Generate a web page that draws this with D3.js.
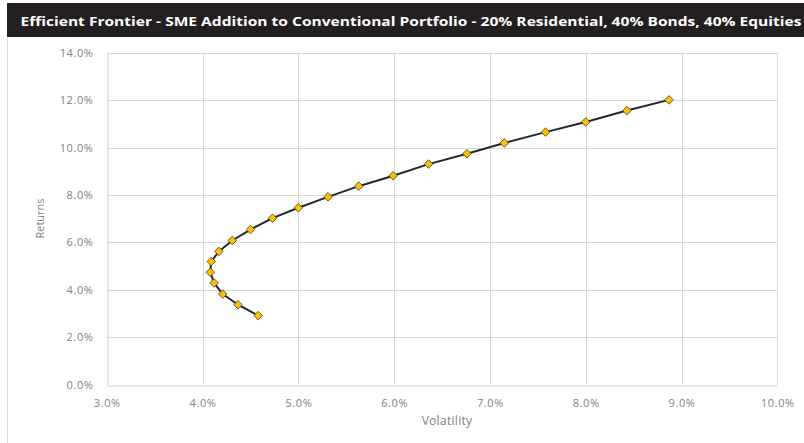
<!DOCTYPE html>
<html>
<head>
<meta charset="utf-8">
<script src="https://cdn.jsdelivr.net/npm/d3@7"></script>
<style>
  body { margin: 0; background: #fff; }
  text { font-family: "Open Sans", sans-serif; }
</style>
</head>
<body>
<script>
var volatility = [4.58, 4.37, 4.21, 4.12, 4.08, 4.09, 4.17, 4.31, 4.50, 4.73, 5.00,
                  5.31, 5.63, 5.99, 6.36, 6.76, 7.15, 7.58, 8.00, 8.43, 8.87];
var returns    = [2.91, 3.37, 3.82, 4.29, 4.74, 5.19, 5.62, 6.08, 6.54, 7.02, 7.46,
                  7.92, 8.37, 8.81, 9.30, 9.74, 10.19, 10.65, 11.08, 11.56, 12.01];

var xTicks = [3, 4, 5, 6, 7, 8, 9, 10],
    yTicks = [0, 2, 4, 6, 8, 10, 12, 14];

var title = "Efficient Frontier - SME Addition to Conventional Portfolio - 20% Residential, 40% Bonds, 40% Equities";

var width = 804, height = 443;

var svg = d3.select("body")
  .append("svg")
    .attr("width", width)
    .attr("height", height);

// chart frame + dark title bar
svg.append("line")
    .attr("x1", 7.5).attr("x2", 7.5)
    .attr("y1", 37).attr("y2", height)
    .attr("stroke", "#d9d9d9");

svg.append("rect")
    .attr("x", 7).attr("y", 3)
    .attr("width", width - 7).attr("height", 34)
    .attr("fill", "#231f20");

svg.append("text")
    .attr("x", 20.5)
    .attr("y", 26)
    .attr("fill", "#fff")
    .style("font-size", "13px")
    .style("font-weight", "bold")
    .attr("textLength", 781)
    .attr("lengthAdjust", "spacingAndGlyphs")
    .text(title);

var x = d3.scaleLinear().domain([3, 10]).range([106.8, 777.3]),
    y = d3.scaleLinear().domain([0, 14]).range([384.6, 52.7]);

var fmt = function(d) { return d.toFixed(1) + "%"; };

// gridlines
svg.append("g")
  .selectAll("line")
  .data(xTicks.slice(1))
  .enter().append("line")
    .attr("x1", function(d) { return Math.round(x(d)) + 0.5; })
    .attr("x2", function(d) { return Math.round(x(d)) + 0.5; })
    .attr("y1", y(14)).attr("y2", y(0))
    .attr("stroke", "#d9d9d9");

svg.append("g")
  .selectAll("line")
  .data(yTicks.slice(1))
  .enter().append("line")
    .attr("x1", x(3)).attr("x2", x(10))
    .attr("y1", function(d) { return Math.round(y(d)) + 0.5; })
    .attr("y2", function(d) { return Math.round(y(d)) + 0.5; })
    .attr("stroke", "#d9d9d9");

// axes (lines only, labels drawn by d3 axis)
var xAxis = svg.append("g")
    .attr("transform", "translate(0," + (Math.round(y(0)) + 0.5) + ")")
    .call(d3.axisBottom(x).tickValues(xTicks).tickFormat(fmt).tickSize(0).tickPadding(14));

var yAxis = svg.append("g")
    .attr("transform", "translate(" + (Math.round(x(3)) + 0.5) + ",0)")
    .call(d3.axisLeft(y).tickValues(yTicks).tickFormat(fmt).tickSize(0).tickPadding(14));

[xAxis, yAxis].forEach(function(a) {
  a.select(".domain").attr("stroke", "#d0d0d0");
  a.selectAll("text")
      .attr("fill", "#7f7f7f")
      .style("font-family", "'Open Sans', sans-serif")
      .style("font-size", "11px")
      .style("letter-spacing", "0.6px");
});

svg.append("text")
    .attr("x", 447)
    .attr("y", 425)
    .attr("text-anchor", "middle")
    .attr("fill", "#7f7f7f")
    .style("font-size", "12px")
    .style("letter-spacing", "0.3px")
    .text("Volatility");

svg.append("text")
    .attr("transform", "translate(43.5,218.5) rotate(-90)")
    .attr("text-anchor", "middle")
    .attr("fill", "#7f7f7f")
    .style("font-size", "11px")
    .text("Returns");

// frontier line + diamond markers
var points = volatility.map(function(v, i) { return {vol: v, ret: returns[i]}; });

var line = d3.line()
    .x(function(d) { return x(d.vol); })
    .y(function(d) { return y(d.ret); });

svg.append("path")
    .datum(points)
    .attr("d", line)
    .attr("fill", "none")
    .attr("stroke", "#262626")
    .attr("stroke-width", 2);

svg.append("g")
  .selectAll("path")
  .data(points)
  .enter().append("path")
    .attr("d", "M0,-4.3L4.3,0L0,4.3L-4.3,0Z")
    .attr("transform", function(d) { return "translate(" + x(d.vol) + "," + y(d.ret) + ")"; })
    .attr("fill", "#ffc000")
    .attr("stroke", "#3a3a3a")
    .attr("stroke-width", 0.8);
</script>
</body>
</html>
